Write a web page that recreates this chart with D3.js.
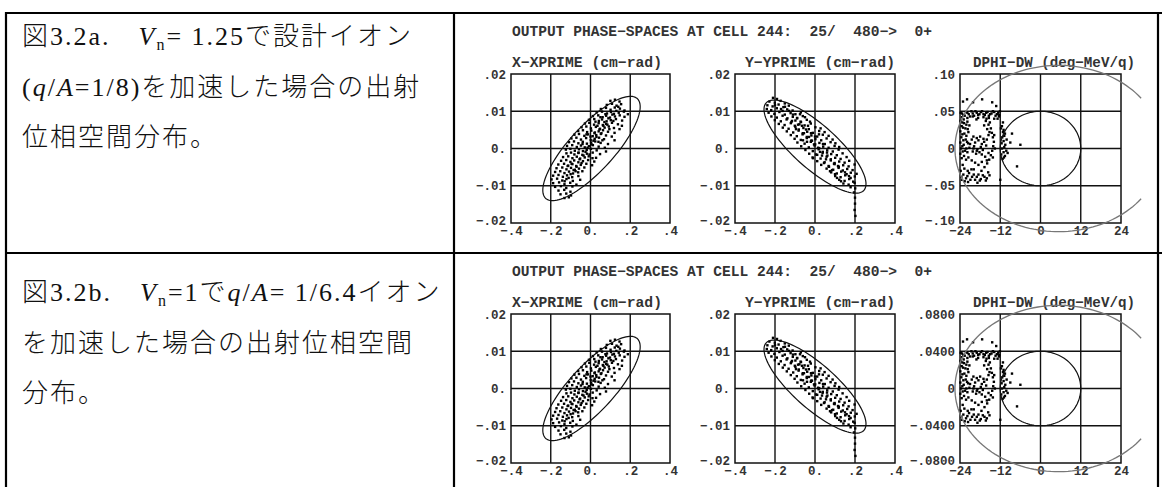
<!DOCTYPE html>
<html><head><meta charset="utf-8">
<script src="https://cdn.jsdelivr.net/npm/d3@7"></script>
<style>
html,body{margin:0;padding:0;background:#fff;}
svg{display:block;}
</style></head><body>
<svg id="c" width="1162" height="487"></svg>
<script>
// ---------------- data ----------------
const headerText = "OUTPUT PHASE\u2212SPACES AT CELL 244:  25/  480\u2212>  0+";
const plotTitles = ["X\u2212XPRIME (cm\u2212rad)", "Y\u2212YPRIME (cm\u2212rad)", "DPHI\u2212DW (deg\u2212MeV/q)"];
const xTicksXY = [-0.4, -0.2, 0, 0.2, 0.4];
const xTickLabelsXY = ["\u2212.4", "\u2212.2", "0.", ".2", ".4"];
const yTicksXY = [-0.02, -0.01, 0, 0.01, 0.02];
const yTickLabelsXY = ["\u2212.02", "\u2212.01", "0.", ".01", ".02"];
const phaseTicks = [-24, -12, 0, 12, 24];
const phaseTickLabels = ["\u221224", "\u221212", "0", "12", "24"];
const dwTicksA = [-0.10, -0.05, 0, 0.05, 0.10];
const dwTickLabelsA = ["\u2212.10", "\u2212.05", "0", ".05", ".10"];
const dwTicksB = [-0.08, -0.04, 0, 0.04, 0.08];
const dwTickLabelsB = ["\u2212.0800", "\u2212.0400", "0", ".0400", ".0800"];

// emittance ellipses: [centre x, centre y, half-width x, half-height y, correlation]
const ellipseX = [0.005, 0, 0.245, 0.014, 0.8];
const ellipseY = [0, 0.0005, 0.255, 0.0125, -0.8];
// longitudinal: inner ellipse [phi0, dw0, rphi, rdw]; separatrix arc [phi0, dw0, rphi, rdw, phi at arc ends]
const innerA = [0, 0, 12, 0.05];
const innerB = [0, 0, 12, 0.04];
const sepA = [5.4, 0, 30.9, 0.1116, 30];
const sepB = [5.4, 0, 30.9, 0.0893, 30];

// particles: X - X' (cm, rad)
const xxp = [
[0.10,0.0128],[0.123,0.0131],[0.146,0.0126],
[0.082,0.0117],[0.108,0.012],[0.131,0.0115],[0.154,0.0119],
[0.052,0.0106],[0.078,0.0109],[0.101,0.0104],[0.122,0.011],[0.148,0.0107],[0.171,0.0102],
[0.031,0.0097],[0.058,0.0099],[0.083,0.0094],[0.103,0.0098],[0.118,0.0093],[0.142,0.0096],[0.168,0.0099],[0.188,0.0092],
[0.012,0.0087],[0.039,0.0089],[0.061,0.0084],[0.079,0.0088],[0.098,0.0083],[0.123,0.0086],[0.147,0.0089],[0.171,0.0085],
[-0.008,0.0077],[0.019,0.0079],[0.042,0.0074],[0.058,0.0078],[0.081,0.0073],[0.102,0.0076],[0.128,0.0079],[0.159,0.0075],
[-0.028,0.0067],[-0.006,0.0069],[0.018,0.0064],[0.041,0.0068],[0.062,0.0063],[0.079,0.0066],[0.108,0.0069],[0.138,0.0065],[0.158,0.0061],
[-0.045,0.0057],[-0.021,0.0059],[0.002,0.0054],[0.027,0.0058],[0.048,0.0053],[0.071,0.0056],[0.092,0.0059],[0.118,0.0055],[0.146,0.0052],
[-0.062,0.0047],[-0.038,0.0049],[-0.017,0.0044],[0.004,0.0048],[0.022,0.0043],[0.041,0.0046],[0.063,0.0049],[0.088,0.0045],[0.121,0.0042],
[-0.081,0.0037],[-0.058,0.0039],[-0.031,0.0034],[-0.012,0.0038],[0.011,0.0033],[0.029,0.0036],[0.052,0.0039],[0.078,0.0035],[0.107,0.0032],
[-0.096,0.0027],[-0.071,0.0029],[-0.048,0.0024],[-0.022,0.0028],[0.001,0.0023],[0.021,0.0026],[0.043,0.0029],[0.068,0.0025],[0.121,0.0022],
[-0.108,0.0017],[-0.083,0.0019],[-0.061,0.0014],[-0.039,0.0018],[-0.018,0.0013],[0.003,0.0016],[0.024,0.0019],[0.051,0.0015],[0.088,0.0012],
[-0.118,0.0007],[-0.092,0.0009],[-0.069,0.0004],[-0.048,0.0008],[-0.029,0.0003],[-0.008,0.0006],[0.012,0.0009],[0.041,0.0005],[0.072,0.0002],
[-0.124,-0.0003],[-0.101,-0.0001],[-0.079,-0.0006],[-0.058,-0.0002],[-0.038,-0.0007],[-0.019,-0.0004],[0.002,-0.0001],[0.031,-0.0005],[0.078,-0.0008],
[-0.121,-0.0013],[-0.098,-0.0011],[-0.081,-0.0016],[-0.061,-0.0012],[-0.041,-0.0017],[-0.018,-0.0014],[0.011,-0.0011],[0.048,-0.0015],
[-0.138,-0.0023],[-0.112,-0.0021],[-0.091,-0.0026],[-0.069,-0.0022],[-0.052,-0.0027],[-0.029,-0.0024],[-0.009,-0.0021],[0.028,-0.0025],
[-0.148,-0.0033],[-0.122,-0.0031],[-0.101,-0.0036],[-0.082,-0.0032],[-0.061,-0.0037],[-0.038,-0.0034],[-0.012,-0.0031],[0.019,-0.0035],
[-0.162,-0.0043],[-0.133,-0.0041],[-0.112,-0.0046],[-0.091,-0.0042],[-0.072,-0.0047],[-0.049,-0.0044],[-0.021,-0.0041],[0.008,-0.0045],
[-0.171,-0.0053],[-0.142,-0.0051],[-0.121,-0.0056],[-0.098,-0.0052],[-0.079,-0.0057],[-0.058,-0.0054],[-0.031,-0.0051],
[-0.178,-0.0063],[-0.152,-0.0061],[-0.131,-0.0066],[-0.108,-0.0062],[-0.088,-0.0067],[-0.062,-0.0064],[-0.041,-0.0061],
[-0.188,-0.0073],[-0.161,-0.0071],[-0.139,-0.0076],[-0.118,-0.0072],[-0.092,-0.0077],[-0.061,-0.0074],
[-0.196,-0.0083],[-0.168,-0.0081],[-0.142,-0.0086],[-0.121,-0.0082],[-0.089,-0.0087],[-0.052,-0.0084],
[-0.188,-0.0093],[-0.158,-0.0091],[-0.131,-0.0096],[-0.102,-0.0092],[-0.071,-0.0097],
[-0.178,-0.0103],[-0.149,-0.0101],[-0.122,-0.0106],[-0.091,-0.0102],
[-0.161,-0.0113],[-0.132,-0.0111],[-0.101,-0.0116],
[-0.151,-0.0123],[-0.122,-0.0121],[-0.098,-0.0126],
[-0.131,-0.0133],[-0.109,-0.0131],
[0.005,0.0011],[-0.015,0.0002],[0.03,0.0031],[-0.035,-0.0019],[0.055,0.0041],[0.07,0.0071],[-0.055,-0.0029],[0.015,0.0021],[-0.025,-0.0009],[0.045,0.0051],
[0.09,0.0081],[-0.07,-0.0049],[0.065,0.0061],[-0.045,-0.0039],[0.035,0.0061],[0.02,0.0041],[-0.005,-0.0016],[0.085,0.0064],[-0.085,-0.0058],[0.11,0.0091],
[-0.1,-0.0069],[0.13,0.0101],[-0.11,-0.0079],[0.0,0.0032],[-0.06,-0.0011],[0.06,0.0022],[0.095,0.0052],[-0.095,-0.0041],[0.025,0.0072],[-0.02,0.0038],
[0.075,0.0092],[-0.13,-0.0088],[0.14,0.0112],[-0.075,-0.0061],[0.04,0.0018],[-0.04,0.0012],[0.01,-0.0026],[0.115,0.0074],[-0.115,-0.0047],[0.05,0.0084]
];

// particles: Y - Y' (cm, rad)
const yyp = [
[-0.21,0.0136],[-0.19,0.0133],
[-0.228,0.0126],[-0.201,0.0123],[-0.172,0.0128],[-0.151,0.0121],
[-0.238,0.0116],[-0.212,0.0113],[-0.182,0.0118],[-0.158,0.0111],[-0.131,0.0115],
[-0.241,0.0106],[-0.219,0.0103],[-0.191,0.0108],[-0.162,0.0101],[-0.139,0.0105],[-0.112,0.0102],
[-0.232,0.0096],[-0.203,0.0093],[-0.178,0.0098],[-0.151,0.0091],[-0.122,0.0095],[-0.098,0.0092],[-0.071,0.0097],
[-0.218,0.0086],[-0.191,0.0083],[-0.162,0.0088],[-0.138,0.0081],[-0.111,0.0085],[-0.089,0.0082],[-0.061,0.0087],
[-0.201,0.0076],[-0.171,0.0073],[-0.142,0.0078],[-0.118,0.0071],[-0.098,0.0075],[-0.072,0.0072],[-0.041,0.0077],
[-0.181,0.0066],[-0.152,0.0063],[-0.121,0.0068],[-0.101,0.0061],[-0.078,0.0065],[-0.052,0.0062],[-0.021,0.0067],
[-0.161,0.0056],[-0.132,0.0053],[-0.098,0.0058],[-0.081,0.0051],[-0.058,0.0055],[-0.031,0.0052],[0.002,0.0057],[0.028,0.0054],
[-0.141,0.0046],[-0.109,0.0043],[-0.082,0.0048],[-0.061,0.0041],[-0.039,0.0045],[-0.011,0.0042],[0.021,0.0047],[0.048,0.0044],
[-0.121,0.0036],[-0.091,0.0033],[-0.062,0.0038],[-0.041,0.0031],[-0.018,0.0035],[0.011,0.0032],[0.039,0.0037],[0.068,0.0034],
[-0.102,0.0026],[-0.071,0.0023],[-0.041,0.0028],[-0.019,0.0021],[0.002,0.0025],[0.031,0.0022],[0.058,0.0027],[0.088,0.0024],
[-0.088,0.0016],[-0.052,0.0013],[-0.021,0.0018],[0.001,0.0011],[0.022,0.0015],[0.049,0.0012],[0.078,0.0017],[0.102,0.0014],
[-0.069,0.0006],[-0.031,0.0003],[-0.002,0.0008],[0.021,0.0001],[0.041,0.0005],[0.068,0.0002],[0.098,0.0007],[0.121,0.0004],
[-0.048,-0.0004],[-0.011,-0.0007],[0.018,-0.0002],[0.039,-0.0009],[0.061,-0.0005],[0.089,-0.0008],[0.118,-0.0003],
[-0.029,-0.0014],[0.011,-0.0017],[0.038,-0.0012],[0.062,-0.0019],[0.081,-0.0015],[0.109,-0.0018],[0.138,-0.0013],
[-0.012,-0.0024],[0.028,-0.0027],[0.058,-0.0022],[0.079,-0.0029],[0.101,-0.0025],[0.128,-0.0028],[0.158,-0.0023],
[0.011,-0.0034],[0.048,-0.0037],[0.079,-0.0032],[0.098,-0.0039],[0.121,-0.0035],[0.148,-0.0038],[0.171,-0.0033],
[0.031,-0.0044],[0.068,-0.0047],[0.098,-0.0042],[0.119,-0.0049],[0.141,-0.0045],[0.168,-0.0048],[0.198,-0.0043],
[0.058,-0.0054],[0.091,-0.0057],[0.118,-0.0052],[0.139,-0.0059],[0.161,-0.0055],[0.188,-0.0058],
[0.081,-0.0064],[0.109,-0.0067],[0.131,-0.0062],[0.158,-0.0069],[0.179,-0.0065],[0.208,-0.0068],
[0.101,-0.0074],[0.128,-0.0077],[0.151,-0.0072],[0.178,-0.0079],[0.199,-0.0075],
[0.121,-0.0084],[0.148,-0.0087],[0.171,-0.0082],[0.191,-0.0089],
[0.142,-0.0094],[0.168,-0.0097],[0.198,-0.0092],
[0.178,-0.0104],[0.201,-0.0107],
[0.195,-0.0118],[0.2,-0.0132],[0.2,-0.0148],[0.198,-0.0165],[0.202,-0.0181],
[-0.005,0.0011],[0.015,0.0002],[-0.03,0.0031],[0.035,-0.0019],[-0.055,0.0041],[-0.07,0.0071],[0.055,-0.0029],[-0.015,0.0021],[0.025,-0.0009],[-0.045,0.0051],
[-0.09,0.0081],[0.07,-0.0049],[-0.065,0.0061],[0.045,-0.0039],[-0.035,0.0061],[-0.02,0.0041],[0.005,-0.0016],[-0.085,0.0064],[0.085,-0.0058],[-0.11,0.0091],
[0.1,-0.0069],[-0.13,0.0101],[0.11,-0.0079],[0.0,0.0032],[0.06,-0.0011],[-0.06,0.0022],[-0.095,0.0052],[0.095,-0.0041],[-0.025,0.0072],[0.02,0.0038],
[-0.075,0.0092],[0.13,-0.0088],[-0.15,0.0112],[0.075,-0.0061],[-0.04,0.0018],[0.04,0.0012],[-0.01,-0.0026],[-0.115,0.0074],[0.115,-0.0047],[-0.05,0.0084],
[-0.17,0.0106],[-0.2,0.0116],[0.15,-0.0064],[0.17,-0.0074]
];

// particles: DPHI - DW, case a (deg, MeV/q)
const dphiA = [
[-23.8,0.048],[-23,0.045],[-22.2,0.049],[-21.4,0.046],[-20.6,0.05],[-19.8,0.044],[-19,0.048],[-18.2,0.046],[-17.4,0.05],[-16.6,0.045],[-15.8,0.049],[-15,0.046],[-14.2,0.05],[-13.4,0.044],[-12.6,0.048],[-12.1,0.05],[-23.4,0.042],[-21.8,0.041],[-20.2,0.043],[-18.6,0.041],[-17,0.042],[-15.4,0.041],[-13.8,0.04],[-12.4,0.043],
[-23.1,0.063],[-21.9,0.066],[-20.1,0.062],[-17.4,0.066],[-14.4,0.062],[-13.2,0.057],
[-23.8,0.037],[-22.8,0.034],[-21.8,0.036],[-23.5,0.03],[-22.4,0.027],[-21.2,0.031],[-23.9,0.023],[-22.7,0.02],[-21.5,0.022],[-23.6,0.015],[-22.3,0.012],[-23.9,0.008],[-22.9,0.005],[-21.6,0.007],[-23.7,0.0],[-22.5,-0.003],[-21.2,0.001],[-23.9,-0.007],[-22.8,-0.01],
[-20.5,0.012],[-19.5,0.008],[-18.5,0.011],[-17.5,0.006],[-19.8,0.003],[-18.8,-0.001],[-17.8,0.002],[-16.8,0.009],[-20.2,-0.004],[-19.2,-0.007],[-18.2,-0.005],[-17.2,-0.002],[-16.2,0.004],
[-16.3,0.037],[-15.5,0.032],[-14.8,0.027],[-14.5,0.021],[-14.2,0.015],[-13.9,0.009],[-14.1,0.003],[-14.4,-0.003],[-14.8,-0.009],[-15.3,-0.015],[-15.9,-0.02],[-16.7,-0.025],[-15.1,0.035],[-13.8,0.018],[-13.6,0.0],[-14.2,-0.012],
[-23.8,-0.03],[-23,-0.035],[-22.2,-0.04],[-21.3,-0.033],[-20.4,-0.038],[-19.5,-0.042],[-18.5,-0.035],[-17.6,-0.03],[-16.7,-0.038],[-23.4,-0.042],[-21.6,-0.045],[-18.8,-0.046],[-16.3,-0.043],[-20.6,-0.028],[-15.6,-0.032],[-23.2,-0.022],[-17.8,-0.041],
[-11.5,0.03],[-11,0.025],[-10.6,0.02],[-11.4,0.015],[-11,0.01],[-10.5,0.005],[-11.5,0.0],[-11,-0.005],[-10.6,-0.01],[-11.2,0.035],[-10.1,0.012],[-10.2,-0.003],[-11.3,-0.014],
[-9,0.008],[-6,0.005],[-7,-0.024],[-9.8,-0.006],[-12,-0.042],[-8.5,0.02],
[-23.4,0.047],[-22.6,0.044],[-21.8,0.048],[-21,0.043],[-20.2,0.047],[-19.4,0.05],[-18.6,0.045],[-17.8,0.049],[-17,0.046],[-16.2,0.048],[-15.4,0.044],[-14.6,0.047],[-13.8,0.049],[-13,0.046],[-12.3,0.045],[-22.9,0.039],[-19.1,0.039],[-16.1,0.04],[-12.8,0.04],
[-23.3,0.035],[-22.1,0.032],[-23.1,0.028],[-21.7,0.026],[-23.3,0.019],[-22.1,0.017],[-23,0.011],[-21.9,0.009],[-23.3,0.003],[-22.1,0.0],[-23.2,-0.004],[-21.8,-0.005],[-23.5,-0.013],[-22.2,-0.015],
[-20,0.016],[-19,0.014],[-18,0.016],[-17,0.013],[-16,0.012],[-15.5,0.018],[-21,0.006],[-20,0.0],[-19,-0.003],[-17.5,-0.008],[-16.5,-0.011],[-15.5,-0.006],[-21.5,-0.012],[-20.5,-0.016],[-19.5,-0.019],[-18.5,-0.022],[-17.5,-0.018],[-16,-0.016],[-16.8,0.031],[-15.9,0.026],[-15.2,0.022],
[-23.6,-0.038],[-22.6,-0.044],[-21.8,-0.037],[-20.9,-0.042],[-19.9,-0.035],[-19,-0.038],[-18.1,-0.043],[-17.2,-0.036],[-16,-0.04],[-15.2,-0.036],[-22.7,-0.027],[-21.7,-0.03],[-19.9,-0.028],
[-11.8,0.027],[-11.2,0.022],[-10.8,0.017],[-11.6,0.007],[-10.8,0.002],[-11.7,-0.008],[-10.9,-0.012]
];

// particles: DPHI - DW, case b (deg, MeV/q)
const dphiB = [
[-23.8,0.0384],[-23,0.036],[-22.2,0.0392],[-21.4,0.0368],[-20.6,0.04],[-19.8,0.0352],[-19,0.0384],[-18.2,0.0368],[-17.4,0.04],[-16.6,0.036],[-15.8,0.0392],[-15,0.0368],[-14.2,0.04],[-13.4,0.0352],[-12.6,0.0384],[-12.1,0.04],[-23.4,0.0336],[-21.8,0.0328],[-20.2,0.0344],[-18.6,0.0328],[-17,0.0336],[-15.4,0.0328],[-13.8,0.032],[-12.4,0.0344],
[-23.1,0.0504],[-21.9,0.0528],[-20.1,0.0496],[-17.4,0.0528],[-14.4,0.0496],[-13.2,0.0456],
[-23.8,0.0296],[-22.8,0.0272],[-21.8,0.0288],[-23.5,0.024],[-22.4,0.0216],[-21.2,0.0248],[-23.9,0.0184],[-22.7,0.016],[-21.5,0.0176],[-23.6,0.012],[-22.3,0.0096],[-23.9,0.0064],[-22.9,0.004],[-21.6,0.0056],[-23.7,0.0],[-22.5,-0.0024],[-21.2,0.0008],[-23.9,-0.0056],[-22.8,-0.008],
[-20.5,0.0096],[-19.5,0.0064],[-18.5,0.0088],[-17.5,0.0048],[-19.8,0.0024],[-18.8,-0.0008],[-17.8,0.0016],[-16.8,0.0072],[-20.2,-0.0032],[-19.2,-0.0056],[-18.2,-0.004],[-17.2,-0.0016],[-16.2,0.0032],
[-16.3,0.0296],[-15.5,0.0256],[-14.8,0.0216],[-14.5,0.0168],[-14.2,0.012],[-13.9,0.0072],[-14.1,0.0024],[-14.4,-0.0024],[-14.8,-0.0072],[-15.3,-0.012],[-15.9,-0.016],[-16.7,-0.02],[-15.1,0.028],[-13.8,0.0144],[-13.6,0.0],[-14.2,-0.0096],
[-23.8,-0.024],[-23,-0.028],[-22.2,-0.032],[-21.3,-0.0264],[-20.4,-0.0304],[-19.5,-0.0336],[-18.5,-0.028],[-17.6,-0.024],[-16.7,-0.0304],[-23.4,-0.0336],[-21.6,-0.036],[-18.8,-0.0368],[-16.3,-0.0344],[-20.6,-0.0224],[-15.6,-0.0256],[-23.2,-0.0176],[-17.8,-0.0328],
[-11.5,0.024],[-11,0.02],[-10.6,0.016],[-11.4,0.012],[-11,0.008],[-10.5,0.004],[-11.5,0.0],[-11,-0.004],[-10.6,-0.008],[-11.2,0.028],[-10.1,0.0096],[-10.2,-0.0024],[-11.3,-0.0112],
[-9,0.0064],[-6,0.004],[-7,-0.0192],[-9.8,-0.0048],[-12,-0.0336],[-8.5,0.016],
[-23.4,0.0376],[-22.6,0.0352],[-21.8,0.0384],[-21,0.0344],[-20.2,0.0376],[-19.4,0.04],[-18.6,0.036],[-17.8,0.0392],[-17,0.0368],[-16.2,0.0384],[-15.4,0.0352],[-14.6,0.0376],[-13.8,0.0392],[-13,0.0368],[-12.3,0.036],[-22.9,0.0312],[-19.1,0.0312],[-16.1,0.032],[-12.8,0.032],
[-23.3,0.028],[-22.1,0.0256],[-23.1,0.0224],[-21.7,0.0208],[-23.3,0.0152],[-22.1,0.0136],[-23,0.0088],[-21.9,0.0072],[-23.3,0.0024],[-22.1,0.0],[-23.2,-0.0032],[-21.8,-0.004],[-23.5,-0.0104],[-22.2,-0.012],
[-20,0.0128],[-19,0.0112],[-18,0.0128],[-17,0.0104],[-16,0.0096],[-15.5,0.0144],[-21,0.0048],[-20,0.0],[-19,-0.0024],[-17.5,-0.0064],[-16.5,-0.0088],[-15.5,-0.0048],[-21.5,-0.0096],[-20.5,-0.0128],[-19.5,-0.0152],[-18.5,-0.0176],[-17.5,-0.0144],[-16,-0.0128],[-16.8,0.0248],[-15.9,0.0208],[-15.2,0.0176],
[-23.6,-0.0304],[-22.6,-0.0352],[-21.8,-0.0296],[-20.9,-0.0336],[-19.9,-0.028],[-19,-0.0304],[-18.1,-0.0344],[-17.2,-0.0288],[-16,-0.032],[-15.2,-0.0288],[-22.7,-0.0216],[-21.7,-0.024],[-19.9,-0.0224],
[-11.8,0.0216],[-11.2,0.0176],[-10.8,0.0136],[-11.6,0.0056],[-10.8,0.0016],[-11.7,-0.0064],[-10.9,-0.0096]
];

// caption text (segments: [text, style])
const captionA = [
  [["図3.2a.　",""],["V","i"],["n","sub"],["= 1.25で設計イオン",""]],
  [["(",""],["q","i"],["/",""],["A","i"],["=1/8)を加速した場合の出射",""]],
  [["位相空間分布。",""]]
];
const captionB = [
  [["図3.2b.　",""],["V","i"],["n","sub"],["=1で",""],["q","i"],["/",""],["A","i"],["= 1/6.4イオン",""]],
  [["を加速した場合の出射位相空間",""]],
  [["分布。",""]]
];

// ---------------- drawing ----------------
const svg = d3.select("#c");
const MONO = "'Liberation Mono', 'DejaVu Sans Mono', monospace";

// table frame
const frame = svg.append("g").attr("stroke", "#000").attr("stroke-width", 2.2);
[[5,13,1162,13],[6,12,6,487],[454,12,454,487],[5,253,1162,253],[1158,12,1158,487]].forEach(l =>
  frame.append("line").attr("x1", l[0]).attr("y1", l[1]).attr("x2", l[2]).attr("y2", l[3]));

function caption(lines, oy) {
  const g = svg.append("g").attr("font-family", "'Liberation Serif','Noto Sans CJK JP',serif")
    .attr("font-size", 26).attr("font-weight", 300).attr("fill", "#111");
  lines.forEach((segs, i) => {
    const t = g.append("text").attr("x", 22).attr("y", oy + i * 50.5).attr("letter-spacing", 2);
    segs.forEach(s => {
      const ts = t.append("tspan").text(s[0]);
      if (s[1] === "i") ts.attr("font-style", "italic");
      if (s[1] === "sub") ts.attr("font-size", 16).attr("baseline-shift", "-5");
    });
  });
}
caption(captionA, 45);
caption(captionB, 301);

const plotX0 = [511, 735, 960], plotW = [159, 160, 161], plotH = 149;

function scatterPanel(g, x, y, xt, xl, yt, yl, pts) {
  const [x0, x1] = x.range(), [y1, y0] = y.range();
  g.append("g").selectAll("line").data(xt.slice(1, -1)).join("line")
    .attr("x1", d => x(d)).attr("x2", d => x(d)).attr("y1", y0).attr("y2", y1)
    .attr("stroke", "#111").attr("stroke-width", 1.4);
  g.append("g").selectAll("line").data(yt.slice(1, -1)).join("line")
    .attr("y1", d => y(d)).attr("y2", d => y(d)).attr("x1", x0).attr("x2", x1)
    .attr("stroke", "#111").attr("stroke-width", 1.4);
  g.append("rect").attr("x", x0).attr("y", y0).attr("width", x1 - x0).attr("height", y1 - y0)
    .attr("fill", "none").attr("stroke", "#111").attr("stroke-width", 1.5);
  const ax = g.append("g").attr("transform", `translate(0,${y1})`)
    .call(d3.axisBottom(x).tickValues(xt).tickFormat((d, i) => xl[i]).tickSize(0).tickPadding(3));
  const ay = g.append("g").attr("transform", `translate(${x0},0)`)
    .call(d3.axisLeft(y).tickValues(yt).tickFormat((d, i) => yl[i]).tickSize(0).tickPadding(5));
  [ax, ay].forEach(a => {
    a.select(".domain").remove();
    a.selectAll("text").attr("font-family", MONO).attr("font-size", 12.5).attr("font-weight", "bold").attr("fill", "#333");
  });
  ay.selectAll("text").filter((d, i) => i === 0).attr("dy", "0.1em");
  g.append("g").selectAll("rect").data(pts).join("rect")
    .attr("x", d => x(d[0]) - 1.2).attr("y", d => y(d[1]) - 1.2)
    .attr("width", 2.4).attr("height", 2.4).attr("fill", "#000");
}

function ellipsePts(e) {
  const phi = Math.acos(e[4]);
  return d3.range(0, 361, 3).map(a => {
    const t = a * Math.PI / 180;
    return [e[0] + e[2] * Math.cos(t), e[1] + e[3] * Math.cos(t - phi)];
  });
}

function drawRow(oy, dwTicks, dwLabels, dphi, inner, sep) {
  const top = 74 + oy;
  svg.append("text").attr("x", 512).attr("y", 36 + oy).attr("font-family", MONO)
    .attr("font-size", 14).attr("font-weight", "bold").attr("fill", "#333").style("white-space", "pre")
    .attr("textLength", 420).attr("lengthAdjust", "spacingAndGlyphs").text(headerText);
  const titleCx = [587, 820, 1054], titleW = [150, 150, 162];
  plotTitles.forEach((t, i) => svg.append("text").attr("x", titleCx[i] - titleW[i] / 2).attr("y", 67 + oy)
    .attr("font-family", MONO).attr("font-size", 14.5).attr("font-weight", "bold").attr("fill", "#333")
    .attr("textLength", titleW[i]).attr("lengthAdjust", "spacingAndGlyphs").text(t));

  const g1 = svg.append("g");
  const x1 = d3.scaleLinear().domain([-0.4, 0.4]).range([plotX0[0], plotX0[0] + plotW[0]]);
  const y1 = d3.scaleLinear().domain([-0.02, 0.02]).range([top + plotH, top]);
  scatterPanel(g1, x1, y1, xTicksXY, xTickLabelsXY, yTicksXY, yTickLabelsXY, xxp);
  g1.append("path").datum(ellipsePts(ellipseX))
    .attr("d", d3.line().x(d => x1(d[0])).y(d => y1(d[1])).curve(d3.curveLinearClosed))
    .attr("fill", "none").attr("stroke", "#111").attr("stroke-width", 1.2);

  const g2 = svg.append("g");
  const x2 = d3.scaleLinear().domain([-0.4, 0.4]).range([plotX0[1], plotX0[1] + plotW[1]]);
  const y2 = d3.scaleLinear().domain([-0.02, 0.02]).range([top + plotH, top]);
  scatterPanel(g2, x2, y2, xTicksXY, xTickLabelsXY, yTicksXY, yTickLabelsXY, yyp);
  g2.append("path").datum(ellipsePts(ellipseY))
    .attr("d", d3.line().x(d => x2(d[0])).y(d => y2(d[1])).curve(d3.curveLinearClosed))
    .attr("fill", "none").attr("stroke", "#111").attr("stroke-width", 1.2);

  const g3 = svg.append("g");
  const x3 = d3.scaleLinear().domain([-24, 24]).range([plotX0[2], plotX0[2] + plotW[2]]);
  const y3 = d3.scaleLinear().domain([dwTicks[0], dwTicks[4]]).range([top + plotH, top]);
  scatterPanel(g3, x3, y3, phaseTicks, phaseTickLabels, dwTicks, dwLabels, dphi);
  const innerPts = d3.range(0, 361, 3).map(a => {
    const t = a * Math.PI / 180;
    return [inner[0] + inner[2] * Math.cos(t), inner[1] + inner[3] * Math.sin(t)];
  });
  g3.append("path").datum(innerPts)
    .attr("d", d3.line().x(d => x3(d[0])).y(d => y3(d[1])).curve(d3.curveLinearClosed))
    .attr("fill", "none").attr("stroke", "#111").attr("stroke-width", 1.2);
  const a0 = Math.acos((sep[4] - sep[0]) / sep[2]);
  const sepPts = d3.range(a0, 2 * Math.PI - a0 + 1e-9, (2 * Math.PI - 2 * a0) / 120).map(t =>
    [sep[0] + sep[2] * Math.cos(t), sep[1] + sep[3] * Math.sin(t)]);
  g3.append("path").datum(sepPts)
    .attr("d", d3.line().x(d => x3(d[0])).y(d => y3(d[1])))
    .attr("fill", "none").attr("stroke", "#777").attr("stroke-width", 1.3);
}

drawRow(0, dwTicksA, dwTickLabelsA, dphiA, innerA, sepA);
drawRow(240, dwTicksB, dwTickLabelsB, dphiB, innerB, sepB);
</script>
</body></html>
